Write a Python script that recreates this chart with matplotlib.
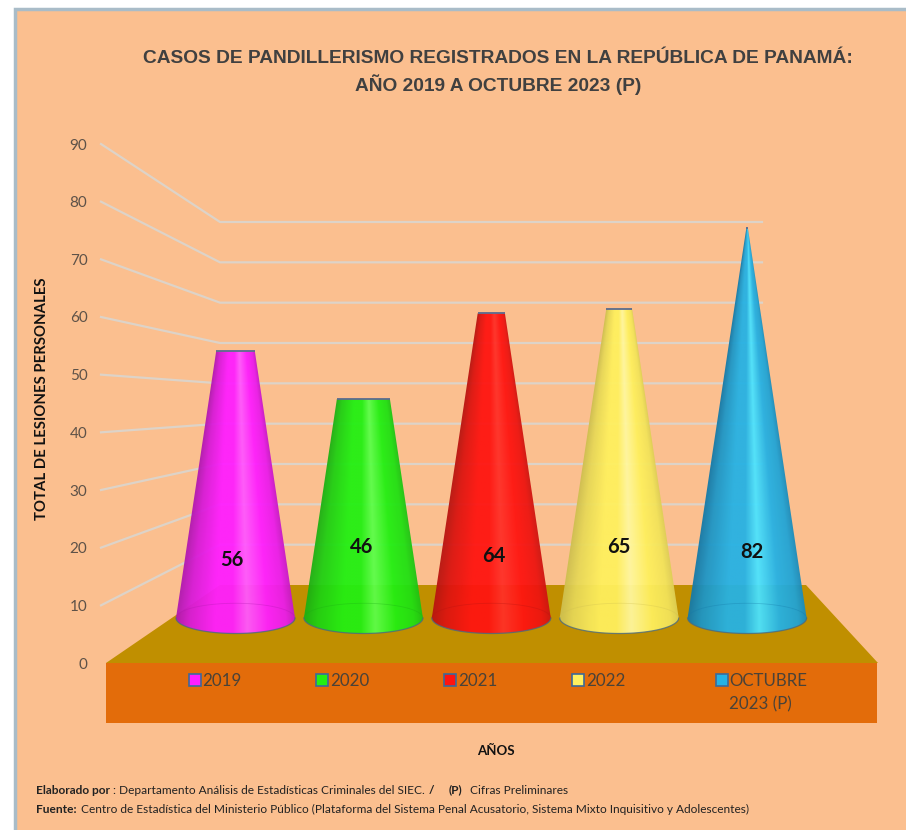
import numpy as np
import matplotlib
matplotlib.use("Agg")
import matplotlib.pyplot as plt
from matplotlib.patches import Polygon, Rectangle
from matplotlib.colors import to_rgb

# ---------- data ----------
categories = ["2019", "2020", "2021", "2022", "OCTUBRE\n2023 (P)"]
values = [56, 46, 64, 65, 82]
y_ticks = [0, 10, 20, 30, 40, 50, 60, 70, 80, 90]
title = "CASOS DE PANDILLERISMO REGISTRADOS EN LA REPÚBLICA DE PANAMÁ:\nAÑO 2019 A OCTUBRE 2023 (P)"

# ---------- style ----------
colors_main = ["#FF1EFF", "#22F012", "#FF1410", "#FFF05E", "#26B2E4"]
colors_edge = ["#B018B0", "#1CB014", "#B81410", "#CFC050", "#157AA8"]
colors_light = ["#FF58FF", "#5CFF4A", "#FF3028", "#FFF8A0", "#4CE4FF"]
label_y = [17.9, 20.1, 18.6, 20.1, 19.2]
label_dx = [-0.03, -0.01, 0.02, 0.0, 0.04]
BG = "#FBBF8F"
FLOOR = "#C08F00"
FRONT = "#E36C0A"
GRID = "#DDD3C8"
TXT = "#5E5248"
FW, FH = 906, 830
L, R, T, B = 100, 878, 144, 663   # axes box in pixels
CAT0, CATSTEP = 235.5, 127.9      # px position of first category / spacing
PXY = (B - T) / 90.0              # px per axis unit in y

fig = plt.figure(figsize=(FW / 100, FH / 100), dpi=100, facecolor="white")
fig.patches.append(Rectangle((15 / FW, -0.02), 1.1, 1.02 - 9 / FH, transform=fig.transFigure,
                             facecolor=BG, edgecolor="#A9BCC8", linewidth=2.5, zorder=-5))
ax = fig.add_axes([L / FW, 1 - B / FH, (R - L) / FW, (B - T) / FH])
ax.patch.set_alpha(0)
ax.set_xlim((L - CAT0) / CATSTEP, (R - CAT0) / CATSTEP)
ax.set_ylim(0, 90)
for s in ax.spines.values():
    s.set_visible(False)
ax.set_xticks([])
ax.set_yticks(y_ticks)
ax.tick_params(axis="y", length=0, pad=9, labelsize=11, labelcolor=TXT)
for t in ax.get_yticklabels():
    t.set_fontfamily("Lato")


def xd(px):
    return (px - CAT0) / CATSTEP


def yd(px):
    return (B - px) / PXY


# perspective: wall values map to a smaller, shifted range at the back
BACK_Y0, BACK_K = yd(585), (yd(222) - yd(585)) / 90.0
BACK_L, BACK_R = xd(220), xd(762)

for v in y_ticks[1:]:
    yb = BACK_Y0 + BACK_K * v
    ax.plot([xd(101), BACK_L, BACK_R], [v, yb, yb], color=GRID, lw=1.6, zorder=1,
            solid_joinstyle="miter", clip_on=False)

# floor and front face
ax.add_patch(Polygon([(xd(106), 0), (xd(878), 0), (xd(806), BACK_Y0), (BACK_L, BACK_Y0)],
                     facecolor=FLOOR, edgecolor="none", zorder=2))
ax.add_patch(Rectangle((xd(106), yd(723)), xd(877) - xd(106), yd(663) - yd(723),
                       facecolor=FRONT, edgecolor="none", zorder=2, clip_on=False))

# cones
BASE_Y = yd(618)
H_SCALE = 4.76 / PXY
RAD = 59.5 / CATSTEP
ELL = 15.5 / PXY
TIP = 83.0
stops_u = np.array([-1.0, -0.78, -0.35, -0.05, 0.2, 0.55, 0.85, 1.0])


def cone(i, v):
    top = BASE_Y + H_SCALE * v
    r_top = RAD * max(0, 1 - v / TIP)
    ys = np.linspace(BASE_Y - ELL - 0.5, top + 0.3, 320)
    xs = np.linspace(i - RAD, i + RAD, 240)
    X, Y = np.meshgrid(xs, ys)
    rad = RAD + (r_top - RAD) * np.clip((Y - BASE_Y) / (top - BASE_Y), 0, 1)
    U = np.clip((X - i) / np.maximum(rad, 1e-3), -1, 1)
    e, m, h = map(np.array, (to_rgb(colors_edge[i]), to_rgb(colors_main[i]), to_rgb(colors_light[i])))
    stops = [e, 0.5 * e + 0.5 * m, m, m, h, m, 0.75 * m + 0.25 * e, 0.3 * m + 0.7 * e]
    img = np.stack([np.interp(U, stops_u, [s[c] for s in stops]) for c in range(3)], axis=-1)
    t = np.linspace(np.pi, 2 * np.pi, 60)
    outline = [(i + RAD * np.cos(a), BASE_Y + ELL * np.sin(a)) for a in t]
    outline += [(i + r_top, top), (i - r_top, top)]
    im = ax.imshow(img, extent=(xs[0], xs[-1], ys[0], ys[-1]), origin="lower",
                   aspect="auto", zorder=3, alpha=0.95, interpolation="bilinear")
    im.set_clip_path(Polygon(outline, transform=ax.transData))
    # base rim (front), faint back rim, top rim
    ax.plot(i + RAD * np.cos(t), BASE_Y + ELL * np.sin(t), color="#4A6A80", lw=0.9, zorder=4, alpha=0.8)
    ax.plot(i + RAD * np.cos(t), BASE_Y - ELL * 0.95 * np.sin(t), color=colors_edge[i], lw=0.6,
            alpha=0.35, zorder=4)
    if r_top > 0:
        ax.plot([i - r_top, i + r_top], [top, top], color="#5B6A8E", lw=1.3, zorder=4,
                solid_capstyle="butt")


key_x = [-0.32, -0.32, -0.32, -0.32, -0.2]
for i, v in enumerate(values):
    cone(i, v)
    ax.text(i + label_dx[i], label_y[i], str(v), ha="center", va="center",
            fontsize=14.5, fontweight="bold", color="#111111", family="Lato", zorder=6)
    # legend key + label in the front panel
    kx = i + key_x[i]
    ax.plot([kx], [yd(680)], marker="s", ms=9, mfc=colors_main[i], mec="#3D6A98", mew=1.2,
            zorder=6, clip_on=False, linestyle="none")
    ax.text(kx + 0.06, yd(673), categories[i], ha="left", va="top", fontsize=12.2,
            color="#4A4238", family="Lato", zorder=6, clip_on=False, linespacing=1.55)

# text
fig.text(498 / FW, 1 - 72.5 / FH, title, ha="center", va="center", fontsize=13.8, fontweight="bold",
         family="Liberation Sans", color="#404040", linespacing=1.42)
fig.text(42 / FW, 1 - 399 / FH, "TOTAL DE LESIONES PERSONALES", rotation=90, ha="center", va="center",
         fontsize=10.7, fontweight="bold", family="Lato", color="#111111")
fig.text(496 / FW, 1 - 751 / FH, "AÑOS", ha="center", va="center", fontsize=9.5, fontweight="bold",
         family="Lato", color="#111111")
FOOT = [
    (36, 790, "Elaborado por", "bold"),
    (113, 790, ": Departamento Análisis de Estadísticas Criminales del SIEC.", "normal"),
    (429, 790, "/", "bold"),
    (449, 790, "(P)", "bold"),
    (470, 790, "Cifras Preliminares", "normal"),
    (36, 809, "Fuente:", "bold"),
    (81, 809, "Centro de Estadística del Ministerio Público (Plataforma del Sistema Penal Acusatorio, Sistema Mixto Inquisitivo y Adolescentes)", "normal"),
]
for x, y, s, w in FOOT:
    fig.text(x / FW, 1 - y / FH, s, ha="left", va="center", fontsize=8.55, fontweight=w,
             family="Lato", color="#222222")

fig.savefig("out.png", dpi=100, facecolor="white")
